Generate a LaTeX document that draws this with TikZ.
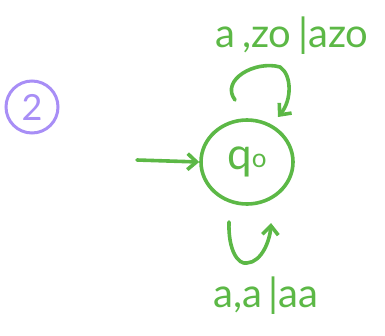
\documentclass[tikz,border=0pt]{standalone}
\usepackage{fontspec}
\setmainfont{Lato}
\usetikzlibrary{arrows.meta,shapes.geometric}
\definecolor{hgreen}{RGB}{92,184,70}
\definecolor{hpurple}{RGB}{168,142,246}
\begin{document}
\begin{tikzpicture}[x=1pt,y=-1pt,
  pen/.style={line width=3.6pt,line cap=round,line join=round,hgreen},
  tip/.style={-{Straight Barb[length=9pt,width=16pt,line width=3.6pt]}},
  lbl/.style={text=hgreen,font=\fontsize{40}{42}\selectfont,inner sep=0pt}]
\useasboundingbox (0,0) rectangle (385,335);
% purple marker
\node[draw=hpurple,line width=3pt,circle,minimum size=52pt,inner sep=0pt,
      text=hpurple,font=\fontsize{36}{38}\selectfont] (num) at (32,107) {2};
% state
\node[draw=hgreen,line width=3.6pt,ellipse,minimum width=92pt,minimum height=84pt,
      inner sep=0pt,text=hgreen,font=\fontsize{44}{46}\selectfont] (q0) at (247,162)
      {q\raisebox{2pt}{\fontsize{26}{28}\selectfont o}};
% initial arrow
\coordinate (init) at (137,160);
\draw[pen,tip] (init) -- (q0.west);
% top loop
\coordinate (t1) at (235,100);
\coordinate (t2) at (278,117);
\draw[pen,tip] (t1) .. controls (220,80) and (255,60) .. (280,67) .. controls (292,75) and (292,100) .. (t2);
\node[lbl] (top) at (292,36) {a\,,zo\,|azo};
% bottom loop
\coordinate (b1) at (229,222);
\coordinate (b2) at (271,223);
\draw[pen,tip] (b1) .. controls (228,250) and (238,265) .. (247,263) .. controls (262,262) and (270,240) .. (b2);
\node[lbl] (bot) at (266,296) {a,a\,|aa};
\end{tikzpicture}
\end{document}
